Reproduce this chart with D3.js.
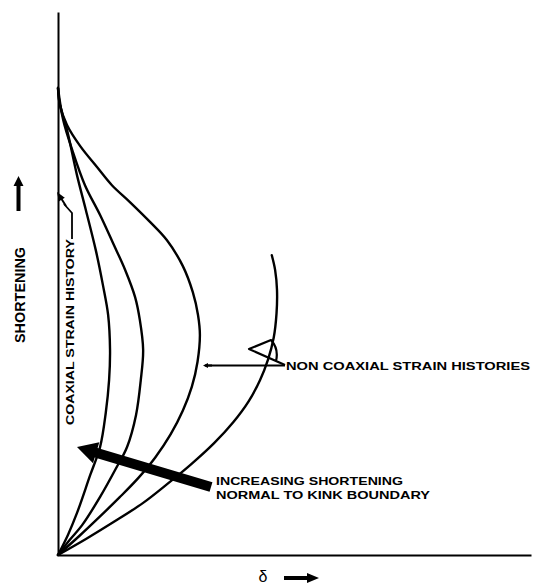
<!DOCTYPE html>
<html>
<head>
<meta charset="utf-8">
<script src="https://cdn.jsdelivr.net/npm/d3@7"></script>
<style>
  html, body { margin: 0; padding: 0; background: #fff; }
  svg { display: block; }
  text { font-family: "Liberation Sans", Arial, sans-serif; fill: #000; }
</style>
</head>
<body>
<svg id="chart" width="534" height="586"></svg>
<script>
// Strain paths: delta (x) against shortening (y), both in arbitrary units 0–100.
const curveNames = ["A", "B", "C", "D"];
const curveA = [[0,0],[2.1,3.7],[4.0,7.7],[6.8,14.7],[8.9,19.9],[10.1,26.2],[10.8,32.2],[11.0,37.8],[10.6,44.2],[9.5,49.7],[8.0,56.1],[5.9,63.5],[4.0,70.0],[1.9,78.3],[0.4,82.9],[0,86.0]];
const curveB = [[0,0],[2.5,2.8],[5.1,5.5],[8.9,10.7],[12.1,15.7],[14.6,19.9],[16.5,25.8],[17.5,32.2],[18.0,37.8],[17.3,43.3],[16.3,47.5],[14.2,52.5],[11.6,57.5],[8.9,62.6],[5.7,68.1],[3.0,74.6],[1.1,80.1],[0,86.0]];
const curveC = [[0,0],[4.5,3.5],[9.0,7.2],[13.0,10.6],[17.0,14.2],[20.6,18.0],[23.8,22.2],[26.4,26.6],[28.3,31.0],[29.5,35.6],[30.0,40.5],[29.6,44.2],[28.5,48.4],[26.4,53.2],[23.0,58.0],[19.5,61.3],[15.2,65.0],[11.4,68.1],[8.2,71.5],[4.7,75.3],[1.9,79.2],[0.4,82.9],[0,86.0]];
const curveD = [[0,0],[6.0,3.0],[12.0,6.2],[18.0,9.6],[23.0,13.0],[28.0,16.6],[33.0,20.6],[37.0,24.4],[40.3,28.3],[42.7,32.2],[44.4,36.0],[45.6,40.0],[46.2,44.5],[46.3,48.8],[45.9,52.5],[45.2,55.2]];
const curves = [curveA, curveB, curveC, curveD];

const xLabel = "δ";
const yLabel = "SHORTENING";
const coaxialLabel = "COAXIAL STRAIN HISTORY";
const nonCoaxialLabel = "NON COAXIAL STRAIN HISTORIES";
const trendLabel = ["INCREASING SHORTENING", "NORMAL TO KINK BOUNDARY"];

const svg = d3.select("#chart");
const x = d3.scaleLinear().domain([0, 100]).range([58, 531]);
const y = d3.scaleLinear().domain([0, 100]).range([555, 12]);

// Axes: plain lines, no ticks
svg.append("g")
  .attr("transform", `translate(0,${y(0)})`)
  .call(d3.axisBottom(x).tickValues([]).tickSizeOuter(0))
  .call(g => g.select(".domain").attr("stroke-width", 2));
svg.append("g")
  .attr("transform", `translate(${x(0)},0)`)
  .call(d3.axisLeft(y).tickValues([]).tickSizeOuter(0))
  .call(g => g.select(".domain").attr("stroke-width", 2));

// Strain history curves
const line = d3.line()
  .x(d => x(d[0])).y(d => y(d[1]))
  .curve(d3.curveCatmullRom.alpha(0.5));
svg.append("g").selectAll("path")
  .data(curves)
  .join("path")
  .attr("d", line)
  .attr("fill", "none")
  .attr("stroke", "#000")
  .attr("stroke-width", 2.4)
  .attr("stroke-linecap", "round");

// Helper: filled block arrow from tail to tip
function blockArrow(x0, y0, x1, y1, shaftW, headW, headL) {
  const dx = x1 - x0, dy = y1 - y0, len = Math.hypot(dx, dy);
  const ux = dx / len, uy = dy / len, nx = -uy, ny = ux;
  const bx = x1 - ux * headL, by = y1 - uy * headL;
  const pts = [
    [x0 + nx * shaftW / 2, y0 + ny * shaftW / 2],
    [bx + nx * shaftW / 2, by + ny * shaftW / 2],
    [bx + nx * headW / 2, by + ny * headW / 2],
    [x1, y1],
    [bx - nx * headW / 2, by - ny * headW / 2],
    [bx - nx * shaftW / 2, by - ny * shaftW / 2],
    [x0 - nx * shaftW / 2, y0 - ny * shaftW / 2]
  ];
  return "M" + pts.map(p => p.join(",")).join("L") + "Z";
}

// Thick trend arrow
svg.append("path")
  .attr("d", blockArrow(211, 487, 77, 447, 10, 22, 20))
  .attr("fill", "#000");
svg.append("text")
  .attr("x", 216).attr("y", 484.5)
  .attr("font-size", 10).attr("font-weight", "bold")
  .attr("textLength", 187).attr("lengthAdjust", "spacingAndGlyphs")
  .text(trendLabel[0]);
svg.append("text")
  .attr("x", 216).attr("y", 498.5)
  .attr("font-size", 10).attr("font-weight", "bold")
  .attr("textLength", 214).attr("lengthAdjust", "spacingAndGlyphs")
  .text(trendLabel[1]);

// Non-coaxial pointer
svg.append("path")
  .attr("d", "M205,365.5 L285,365.5")
  .attr("stroke", "#000").attr("stroke-width", 2).attr("fill", "none");
svg.append("path")
  .attr("d", blockArrow(212, 365.5, 203, 365.5, 2, 5, 5))
  .attr("fill", "#000");
svg.append("path")
  .attr("d", "M285,365 L249,349 L271,340 Q279,349 276,361")
  .attr("stroke", "#000").attr("stroke-width", 2.2).attr("fill", "none")
  .attr("stroke-linejoin", "round");
svg.append("text")
  .attr("x", 286).attr("y", 369.5)
  .attr("font-size", 11).attr("font-weight", "bold")
  .attr("textLength", 244).attr("lengthAdjust", "spacingAndGlyphs")
  .text(nonCoaxialLabel);

// Coaxial label (vertical) and leader
svg.append("text")
  .attr("transform", "translate(74,425) rotate(-90)")
  .attr("font-size", 11).attr("font-weight", "bold")
  .attr("textLength", 186).attr("lengthAdjust", "spacingAndGlyphs")
  .text(coaxialLabel);
svg.append("path")
  .attr("d", "M72,239 L72,213 L64,204")
  .attr("stroke", "#000").attr("stroke-width", 1.8).attr("fill", "none");
svg.append("path")
  .attr("d", blockArrow(66, 206, 57, 192, 2, 7, 9))
  .attr("fill", "#000");

// Axis titles
svg.append("text")
  .attr("transform", "translate(25,343) rotate(-90)")
  .attr("font-size", 15).attr("font-weight", "bold")
  .attr("textLength", 96).attr("lengthAdjust", "spacingAndGlyphs")
  .text(yLabel);
svg.append("path")
  .attr("d", blockArrow(18.5, 211, 18.5, 176, 4, 10, 10))
  .attr("fill", "#000");

svg.append("text")
  .attr("x", 263).attr("y", 582)
  .attr("text-anchor", "middle")
  .attr("font-family", "DejaVu Sans")
  .attr("font-size", 16)
  .text(xLabel);
svg.append("path")
  .attr("d", blockArrow(284, 578, 319, 578, 4, 10, 12))
  .attr("fill", "#000");
</script>
</body>
</html>
